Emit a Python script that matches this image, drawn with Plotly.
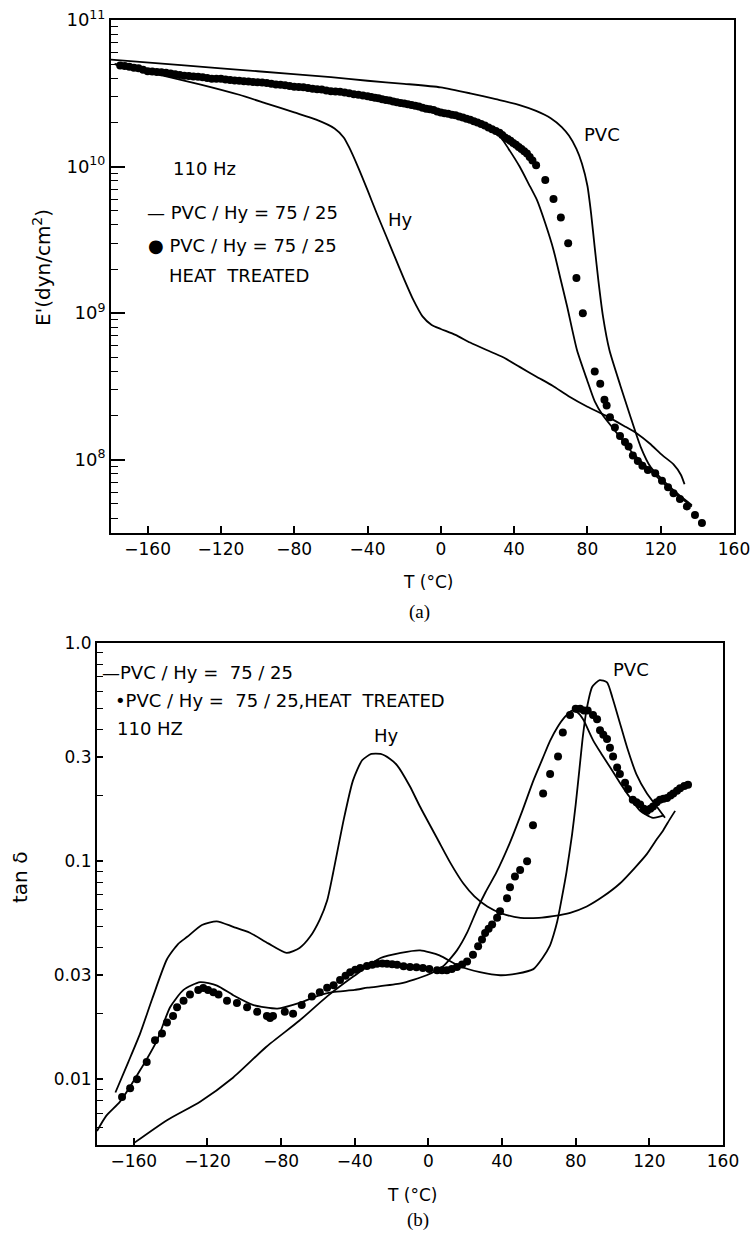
import plotly.graph_objects as go

W, H = 753, 1237

# ---------------- panel (a): E' (dyn/cm^2) vs T ----------------
a_T_pvc = [-180, -140, -100, -60, -40, -20, 0, 16, 30, 43, 52, 60, 66, 70, 74, 77, 80, 82, 84, 86,
           88.5, 92, 98, 103, 109, 114.5, 123, 130, 137]
a_E_pvc = [5.37e10, 4.90e10, 4.47e10, 4.07e10, 3.85e10, 3.67e10, 3.47e10, 3.16e10, 2.88e10, 2.63e10,
           2.40e10, 2.14e10, 1.86e10, 1.62e10, 1.32e10, 1.05e10, 7.4e9, 4.8e9, 2.8e9, 1.66e9,
           9.5e8, 5.6e8, 3.2e8, 2.05e8, 1.23e8, 8.9e7, 6.9e7, 5.75e7, 4.9e7]

a_T_hy = [-178, -155, -131, -110, -95, -80, -68, -58, -53, -50, -45, -40, -35, -30, -25, -20, -15, -10,
          -5, 0, 8, 16, 25, 34, 43, 52, 61, 70, 80, 90, 100, 107, 114, 121, 127, 131, 133]
a_E_hy = [5.0e10, 4.27e10, 3.63e10, 3.09e10, 2.69e10, 2.34e10, 2.09e10, 1.82e10, 1.58e10, 1.35e10,
          9.8e9, 6.9e9, 4.8e9, 3.4e9, 2.4e9, 1.7e9, 1.23e9, 9.5e8, 8.3e8, 7.8e8, 7.1e8, 6.3e8, 5.6e8,
          5.0e8, 4.3e8, 3.7e8, 3.2e8, 2.7e8, 2.3e8, 2.0e8, 1.7e8, 1.51e8, 1.29e8, 1.07e8, 9.3e7,
          7.9e7, 6.8e7]

a_T_blend = [-178, -150, -120, -90, -60, -40, -20, 0, 15, 25, 31, 37, 43, 48, 52.5, 57, 61.5, 65, 69,
             74.3, 79.8, 84, 88.5, 95, 105, 115, 125, 137]
a_E_blend = [5.0e10, 4.37e10, 3.98e10, 3.63e10, 3.24e10, 3.02e10, 2.69e10, 2.40e10, 2.14e10, 1.91e10,
             1.70e10, 1.32e10, 1.0e10, 7.6e9, 5.9e9, 4.1e9, 2.7e9, 1.78e9, 1.1e9, 5.6e8, 3.5e8, 2.5e8,
             2.0e8, 1.58e8, 1.10e8, 8.3e7, 6.3e7, 4.8e7]

a_T_dots = [-175, -172.5, -170, -167.5, -165, -162.5, -160, -157.5, -155, -152.5, -150, -147.5, -145,
            -142.5, -140, -137.5, -135, -132.5, -130, -127.5, -125, -122.5, -120, -117.5, -115,
            -112.5, -110, -107.5, -105, -102.5, -100, -97.5, -95, -92.5, -90, -87.5, -85, -82.5, -80,
            -77.5, -75, -72.5, -70, -67.5, -65, -62.5, -60, -57.5, -55, -52.5, -50, -47.5, -45,
            -42.5, -40, -38, -36, -34, -32, -30, -28, -26, -24, -22, -20, -18, -16, -14, -12, -10,
            -8, -6, -4, -2, 0, 2, 4, 6, 8, 10, 12, 14, 16, 18, 20, 22, 24, 26, 28, 30, 32, 33.5, 35,
            36.5, 38, 39.5, 41, 42.5, 44, 45.5, 47, 48.5, 50, 52, 57, 61.5, 65.5, 69.5, 74, 77.5, 84,
            87, 89.3, 90.5, 92.3, 95, 97.8, 100.5, 102.5, 104.8, 107.5, 110, 113, 117, 120.7, 124,
            127, 130.5, 134.3, 138.7, 142.5]
a_E_dots = [4.9e10, 4.85e10, 4.79e10, 4.73e10, 4.68e10, 4.57e10, 4.47e10, 4.45e10, 4.42e10, 4.40e10,
            4.37e10, 4.32e10, 4.27e10, 4.22e10, 4.17e10, 4.15e10, 4.12e10, 4.10e10, 4.07e10, 4.02e10,
            3.98e10, 3.98e10, 3.98e10, 3.93e10, 3.89e10, 3.87e10, 3.85e10, 3.82e10, 3.80e10, 3.78e10,
            3.76e10, 3.74e10, 3.72e10, 3.68e10, 3.63e10, 3.61e10, 3.59e10, 3.55e10, 3.51e10, 3.49e10,
            3.47e10, 3.43e10, 3.39e10, 3.37e10, 3.35e10, 3.31e10, 3.27e10, 3.25e10, 3.24e10, 3.20e10,
            3.16e10, 3.12e10, 3.09e10, 3.05e10, 3.02e10, 2.98e10, 2.95e10, 2.92e10, 2.88e10, 2.85e10,
            2.82e10, 2.78e10, 2.75e10, 2.72e10, 2.69e10, 2.66e10, 2.63e10, 2.60e10, 2.57e10, 2.52e10,
            2.48e10, 2.46e10, 2.43e10, 2.38e10, 2.34e10, 2.31e10, 2.29e10, 2.26e10, 2.24e10, 2.20e10,
            2.16e10, 2.12e10, 2.09e10, 2.04e10, 2.0e10, 1.95e10, 1.91e10, 1.85e10, 1.80e10, 1.75e10,
            1.70e10, 1.64e10, 1.58e10, 1.54e10, 1.50e10, 1.45e10, 1.41e10, 1.36e10, 1.32e10, 1.27e10,
            1.23e10, 1.16e10, 1.10e10, 1.02e10, 8.1e9, 6.0e9, 4.5e9, 3.0e9, 1.74e9, 1.0e9, 4.0e8,
            3.3e8, 2.57e8, 2.34e8, 1.95e8, 1.66e8, 1.45e8, 1.32e8, 1.23e8, 1.07e8, 9.8e7, 9.1e7,
            8.5e7, 8.1e7, 7.2e7, 6.5e7, 5.9e7, 5.4e7, 4.8e7, 4.2e7, 3.7e7]

# ---------------- panel (b): tan delta vs T ----------------
b_T_hy = [-170, -163, -156.6, -150, -142, -136, -131, -123, -115, -106, -97, -87, -77, -70, -64.3,
          -59, -55, -51.8, -46, -41, -36, -31, -26, -21, -17, -10, -4.6, 5, 12, 19, 25, 32, 40, 50,
          60, 67.7, 77, 86, 95, 104, 112, 118.7, 124, 127.4, 131, 134]
b_tan_hy = [0.0087, 0.012, 0.0162, 0.0234, 0.0355, 0.0417, 0.045, 0.051, 0.053, 0.050, 0.047, 0.042,
            0.038, 0.040, 0.045, 0.054, 0.066, 0.088, 0.155, 0.234, 0.29, 0.31, 0.31, 0.295, 0.275,
            0.22, 0.178, 0.126, 0.098, 0.079, 0.069, 0.062, 0.0575, 0.055, 0.055, 0.056, 0.058,
            0.062, 0.069, 0.079, 0.093, 0.108, 0.126, 0.138, 0.155, 0.170]

b_T_pvc = [-160, -142, -124, -106, -88, -70, -55, -41, -26, -15, -4.5, 6, 17, 28, 39, 48, 57, 62, 66,
           68, 70, 72.5, 75, 78, 80, 82, 84, 86, 89, 93, 97, 100, 104, 108, 113, 118.7, 124, 128.5]
b_tan_pvc = [0.0051, 0.0065, 0.0079, 0.0102, 0.0141, 0.0186, 0.024, 0.0295, 0.036, 0.038, 0.039,
             0.037, 0.033, 0.031, 0.030, 0.0305, 0.032, 0.036, 0.041, 0.046, 0.053, 0.068, 0.089,
             0.132, 0.182, 0.263, 0.38, 0.50, 0.63, 0.676, 0.66, 0.56, 0.43, 0.33, 0.25, 0.204,
             0.178, 0.158]

b_T_blend = [-180, -175, -167.5, -156.6, -147.4, -140.3, -133, -124, -114.8, -106, -95, -82, -70, -59,
             -52, -40, -33, -15, -1, 8, 15.5, 21, 26.4, 31, 37, 44, 51, 57, 62, 66, 70, 74, 78, 81, 84,
             89.4, 94, 98.6, 104, 108, 115, 122, 128]
b_tan_blend = [0.0058, 0.0068, 0.0079, 0.011, 0.0151, 0.0214, 0.0257, 0.0279, 0.0269, 0.0243, 0.0219,
               0.0211, 0.0224, 0.0243, 0.0251, 0.0257, 0.0263, 0.0275, 0.030, 0.033, 0.039, 0.047,
               0.060, 0.072, 0.089, 0.12, 0.17, 0.234, 0.295, 0.355, 0.41, 0.457, 0.49, 0.48, 0.447,
               0.359, 0.31, 0.27, 0.229, 0.204, 0.17, 0.158, 0.162]

b_T_dots = [-166.4, -162, -158.3, -153, -148.5, -144.7, -142, -138.7, -136.5, -133, -129.5, -125,
            -122.3, -119.7, -116.8, -114, -109.4, -104, -98.5, -93, -87.7, -86, -84.4, -78, -73.5,
            -68.8, -63.3, -59, -55, -51.5, -48, -45, -42.5, -39.7, -37, -33.4, -30.5, -27.9, -25,
            -22.5, -19.7, -17, -13.5, -10, -6.5, -3, 0.5, 4.7, 7.4, 10, 12.7, 15.5, 18.3, 21, 24.2,
            27, 29.1, 30.8, 32.7, 34.6, 37.3, 38.9, 42.7, 44.3, 47, 49.8, 53.6, 56.8, 62.3, 66.1,
            70.4, 73, 76.9, 80, 82.4, 84.5, 86.5, 89.4, 91.6, 93.2, 95, 97, 98.6, 100.3, 102.5, 104,
            106.8, 108.4, 111, 113, 115, 117, 118.7, 120.5, 122, 124, 125.8, 127.7, 129.6, 131.5,
            133, 135, 136.7, 139, 141]
b_tan_dots = [0.0083, 0.0091, 0.010, 0.012, 0.0151, 0.0162, 0.0182, 0.0195, 0.0214, 0.0229, 0.0245,
              0.0257, 0.0262, 0.0257, 0.0251, 0.0245, 0.0229, 0.0224, 0.0214, 0.0204, 0.0195, 0.0191,
              0.0195, 0.0204, 0.020, 0.0219, 0.024, 0.0251, 0.0263, 0.027, 0.0285, 0.0298, 0.031,
              0.0318, 0.0324, 0.0331, 0.0335, 0.0339, 0.034, 0.0339, 0.0337, 0.0335, 0.033, 0.0327,
              0.0326, 0.0324, 0.032, 0.0316, 0.0316, 0.0316, 0.032, 0.0327, 0.0336, 0.0347, 0.0372,
              0.0407, 0.0437, 0.0468, 0.049, 0.0513, 0.055, 0.059, 0.0676, 0.076, 0.085, 0.091, 0.10,
              0.146, 0.204, 0.251, 0.302, 0.389, 0.468, 0.50, 0.50, 0.49, 0.49, 0.468, 0.447, 0.398,
              0.38, 0.363, 0.331, 0.302, 0.269, 0.251, 0.229, 0.214, 0.191, 0.186, 0.182, 0.174, 0.17,
              0.174, 0.178, 0.186, 0.191, 0.193, 0.195, 0.20, 0.204, 0.21, 0.216, 0.221, 0.224]

x_ticks = [-160, -120, -80, -40, 0, 40, 80, 120, 160]
a_y_ticks = [1e8, 1e9, 1e10, 1e11]
a_y_text = ["10<sup>8</sup>", "10<sup>9</sup>", "10<sup>10</sup>", "10<sup>11</sup>"]
b_y_ticks = [0.01, 0.03, 0.1, 0.3, 1.0]
b_y_text = ["0.01", "0.03", "0.1", "0.3", "1.0"]

FONT = "DejaVu Sans"
INK = "black"

def fx(px):
    return px / W

def fy(py):
    return 1 - py / H

fig = go.Figure()

line_style = dict(color=INK, width=1.8, shape="spline", smoothing=0.6)
dot_style = dict(color=INK, size=8)

for xs, ys in [(a_T_pvc, a_E_pvc), (a_T_hy, a_E_hy), (a_T_blend, a_E_blend)]:
    fig.add_trace(go.Scatter(x=xs, y=ys, mode="lines", line=line_style, xaxis="x", yaxis="y",
                             showlegend=False, hoverinfo="skip"))
fig.add_trace(go.Scatter(x=a_T_dots, y=a_E_dots, mode="markers", marker=dot_style, xaxis="x", yaxis="y",
                         showlegend=False, hoverinfo="skip"))

for xs, ys in [(b_T_hy, b_tan_hy), (b_T_pvc, b_tan_pvc), (b_T_blend, b_tan_blend)]:
    fig.add_trace(go.Scatter(x=xs, y=ys, mode="lines", line=line_style, xaxis="x2", yaxis="y2",
                             showlegend=False, hoverinfo="skip"))
fig.add_trace(go.Scatter(x=b_T_dots, y=b_tan_dots, mode="markers", marker=dot_style, xaxis="x2", yaxis="y2",
                         showlegend=False, hoverinfo="skip"))

a_minor = [k * 10 ** d for d in range(7, 11) for k in range(2, 10)]
b_minor = [round(k * 10.0 ** d, 6) for d in (-3, -2, -1) for k in range(2, 10)]

common_x = dict(range=[-180, 160], tickvals=x_ticks, ticks="inside", ticklen=7, tickwidth=1.5,
                tickcolor=INK, showline=True, linewidth=2, linecolor=INK, mirror=True,
                showgrid=False, zeroline=False, tickfont=dict(family=FONT, size=17, color=INK),
                ticklabeloverflow="allow", automargin=False)

fig.update_layout(
    width=W, height=H,
    margin=dict(l=0, r=0, t=0, b=0),
    paper_bgcolor="white", plot_bgcolor="white",
    xaxis=dict(domain=[fx(111), fx(734)], anchor="y", **common_x),
    yaxis=dict(domain=[fy(533), fy(20)], anchor="x", type="log", range=[7.5, 11],
               tickvals=a_y_ticks, ticktext=a_y_text, ticks="inside", ticklen=14, tickwidth=1.5,
               tickcolor=INK, showline=True, linewidth=2, linecolor=INK, mirror=True,
               showgrid=False, zeroline=False, tickfont=dict(family=FONT, size=18, color=INK),
               minor=dict(tickmode="array", tickvals=a_minor, ticks="inside", ticklen=7,
                          tickwidth=1.3, tickcolor=INK, showgrid=False),
               automargin=False),
    xaxis2=dict(domain=[fx(97), fx(723)], anchor="y2", **common_x),
    yaxis2=dict(domain=[fy(1145), fy(643)], anchor="x2", type="log", range=[-2.30103, 0],
                tickvals=b_y_ticks, ticktext=b_y_text, ticks="inside", ticklen=6, tickwidth=1.5,
                tickcolor=INK, showline=True, linewidth=2, linecolor=INK, mirror=True,
                showgrid=False, zeroline=False, tickfont=dict(family=FONT, size=17, color=INK),
                minor=dict(tickmode="array", tickvals=b_minor, ticks="inside", ticklen=6,
                           tickwidth=1.3, tickcolor=INK, showgrid=False),
                automargin=False),
    yaxis3=dict(overlaying="y2", anchor="x2", side="left", type="log", range=[-2.30103, 0],
                tickvals=[0.01, 0.1], ticks="inside", ticklen=17, tickwidth=1.5, tickcolor=INK,
                showticklabels=False, showline=False, showgrid=False, zeroline=False,
                automargin=False),
)

def note(text, x, y, size=18, xanchor="center", family=FONT, angle=0):
    fig.add_annotation(text=text, x=fx(x), y=fy(y), xref="paper", yref="paper", showarrow=False,
                       xanchor=xanchor, yanchor="middle", textangle=angle,
                       font=dict(family=family, size=size, color=INK))

# panel (a) texts
note("110 Hz", 171, 168, xanchor="left")
note("— PVC / Hy = 75 / 25", 145, 212, xanchor="left")
note("● PVC / Hy = 75 / 25", 146, 245, xanchor="left")
note("HEAT  TREATED", 167, 275, xanchor="left")
note("Hy", 400, 220)
note("PVC", 602, 135)
note("T (°C)", 428, 582, size=17)
note("E'(dyn/cm<sup>2</sup>)", 42, 268, size=20, angle=-90)
note("(a)", 420, 612, size=19, family="Liberation Serif")

# panel (b) texts
note("—PVC / Hy =  75 / 25", 100, 672, xanchor="left")
note("•PVC / Hy =  75 / 25,HEAT  TREATED", 113, 700, xanchor="left")
note("110 HZ", 115, 728, xanchor="left")
note("Hy", 386, 735)
note("PVC", 631, 669)
note("T (°C)", 412, 1195, size=17)
note("tan δ", 20, 878, size=20, angle=-90)
note("(b)", 418, 1220, size=19, family="Liberation Serif")

fig.write_html("out.html", config={"displayModeBar": False},
               post_script="document.body.style.margin='0px';")
